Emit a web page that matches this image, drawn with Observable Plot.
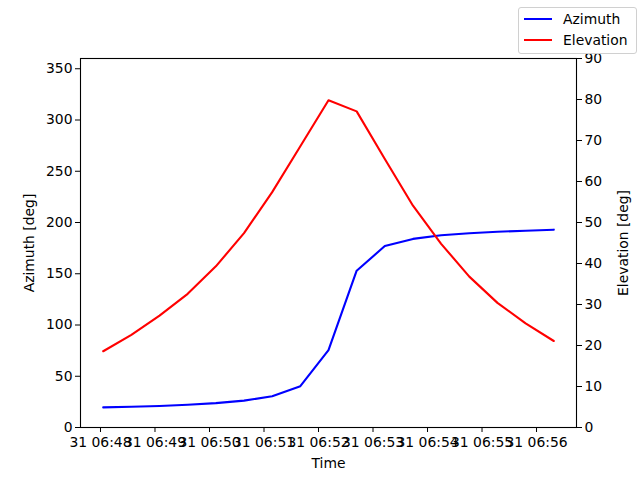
<!DOCTYPE html>
<html>
<head>
<meta charset="utf-8">
<script src="https://cdn.jsdelivr.net/npm/d3@7"></script>
<script src="https://cdn.jsdelivr.net/npm/@observablehq/plot@0.6"></script>
<style>
  html, body { margin: 0; padding: 0; background: white; }
  #wrap { position: relative; width: 640px; height: 480px; font-family: "DejaVu Sans", sans-serif; }
  #legend { position: absolute; left: 518px; top: 7px; width: 117px; height: 45px; border: 1px solid #d0d0d0; border-radius: 3px; background: rgba(255,255,255,0.8); font-size: 13.9px; }
  .item { position: absolute; left: 5px; display: flex; align-items: center; }
  .sw { width: 28px; height: 2px; margin-right: 11px; }
</style>
</head>
<body>
<div id="wrap"></div>
<script>
const times = ["2024-01-31T06:48:03Z","2024-01-31T06:48:34Z","2024-01-31T06:49:05Z","2024-01-31T06:49:36Z",
  "2024-01-31T06:50:07Z","2024-01-31T06:50:38Z","2024-01-31T06:51:09Z","2024-01-31T06:51:40Z",
  "2024-01-31T06:52:11Z","2024-01-31T06:52:42Z","2024-01-31T06:53:13Z","2024-01-31T06:53:44Z",
  "2024-01-31T06:54:15Z","2024-01-31T06:54:46Z","2024-01-31T06:55:17Z","2024-01-31T06:55:48Z",
  "2024-01-31T06:56:19Z"];
const azimuth = [19.6, 20.3, 21.0, 22.2, 23.8, 26.2, 30.5, 40.3, 75.5, 153, 177, 184, 187.5, 189.5, 191, 192, 193];
const elevation = [18.6, 22.6, 27.3, 32.6, 39.3, 47.4, 57.4, 68.6, 79.8, 77.1, 65.5, 54.1, 44.8, 36.8, 30.4, 25.4, 21.1];
const azTicks = [0, 50, 100, 150, 200, 250, 300, 350];
const elTicks = [0, 10, 20, 30, 40, 50, 60, 70, 80, 90];
const xDomain = ["2024-01-31T06:47:38Z", "2024-01-31T06:56:44Z"];
const seriesNames = ["Azimuth", "Elevation"];
const seriesColors = ["#0000ff", "#ff0000"];

const azMax = 360, elMax = 90, k = azMax / elMax;
const data = times.map((t, i) => ({t: new Date(t), az: azimuth[i], el: elevation[i]}));

const chart = Plot.plot({
  width: 640, height: 480,
  marginLeft: 80, marginRight: 64, marginTop: 58, marginBottom: 53,
  style: {fontFamily: "DejaVu Sans", fontSize: "13.9px", color: "black", background: "white"},
  x: {type: "utc", domain: xDomain.map(d => new Date(d))},
  y: {domain: [0, azMax]},
  marks: [
    Plot.line(data, {x: "t", y: "az", stroke: seriesColors[0], strokeWidth: 2.1}),
    Plot.line(data, {x: "t", y: d => d.el * k, stroke: seriesColors[1], strokeWidth: 2.1}),
    Plot.frame({stroke: "black", strokeWidth: 1.1}),
    Plot.axisX({ticks: d3.utcMinute.every(1), tickFormat: d3.utcFormat("%d %H:%M"), tickSize: 5, tickPadding: 5,
      label: "Time", labelAnchor: "center", labelArrow: "none", labelOffset: 40, fontSize: "13.9px"}),
    Plot.axisY({ticks: azTicks, tickSize: 5, tickPadding: 3, label: "Azimuth [deg]", labelAnchor: "center",
      labelArrow: "none", labelOffset: 56, fontSize: "13.9px"}),
    Plot.axisY({anchor: "right", ticks: elTicks.map(v => v * k), tickFormat: d => d / k, tickSize: 5, tickPadding: 3,
      label: "Elevation [deg]", labelAnchor: "center", labelArrow: "none", labelOffset: 51, fontSize: "13.9px"})
  ]
});
const wrap = document.getElementById("wrap");
wrap.appendChild(chart);

const legend = document.createElement("div");
legend.id = "legend";
seriesNames.forEach((name, i) => {
  const it = document.createElement("div");
  it.className = "item";
  it.style.top = (3 + i * 21) + "px";
  it.innerHTML = `<span class="sw" style="background:${seriesColors[i]}"></span><span>${name}</span>`;
  legend.appendChild(it);
});
wrap.appendChild(legend);
</script>
</body>
</html>
